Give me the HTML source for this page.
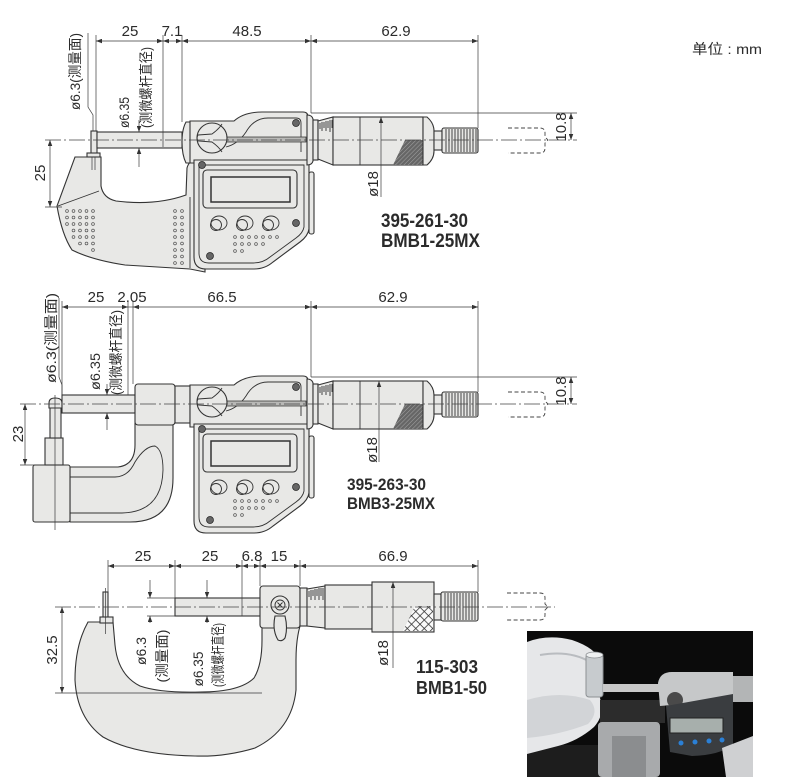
<!DOCTYPE html>
<html><head><meta charset="utf-8">
<style>
html,body{margin:0;padding:0;background:#fff;}
svg{display:block;}
text{font-family:"Liberation Sans","Noto Sans CJK SC",sans-serif;fill:#2b2b2b;}
.p{fill:#e8e8e6;stroke:#333;stroke-width:1.1;}
.l{fill:none;stroke:#333;stroke-width:0.9;}
.d{fill:none;stroke:#3a3a3a;stroke-width:0.7;}
.c{fill:none;stroke:#444;stroke-width:0.7;stroke-dasharray:16 3 2 3;}
.g{fill:none;stroke:#444;stroke-width:0.9;stroke-dasharray:4 2.5;}
.n{font-size:15px;}
.r{font-size:14px;}
.b{font-weight:bold;}
.dot{fill:none;stroke:#555;stroke-width:0.7;}
</style></head><body>
<svg width="790" height="782" viewBox="0 0 790 782" xmlns="http://www.w3.org/2000/svg">
<defs>
<marker id="ar" viewBox="0 0 8 6" refX="8" refY="3" markerWidth="7" markerHeight="4.5" markerUnits="userSpaceOnUse" orient="auto-start-reverse"><path d="M0,0 L8,3 L0,6 z" fill="#333"/></marker>
<pattern id="hatch" width="3" height="3" patternUnits="userSpaceOnUse" patternTransform="rotate(45)"><rect width="3" height="3" fill="#666"/><line x1="0" y1="0" x2="0" y2="3" stroke="#b5b5b5" stroke-width="0.8"/></pattern>
<pattern id="knurl" width="6" height="6" patternUnits="userSpaceOnUse" patternTransform="rotate(45)"><rect width="6" height="6" fill="#fafafa"/><path d="M0,0 H6 M0,0 V6" stroke="#333" stroke-width="1.5"/></pattern>
<clipPath id="pc"><rect x="527" y="631" width="226" height="146"/></clipPath>

<g id="thim">
<path class="p" d="M307,115 Q312,115 313,119 L313,161 Q312,165 307,165 Z"/>
<rect class="p" x="313" y="120" width="5" height="40"/>
<path class="p" d="M318,121 L333,117 L333,165 L318,159 Z"/>
<path class="l" stroke-width="0.6" d="M320,123 V129 M322,122 V131 M324,122 V128 M326,121 V131 M328,121 V128 M330,120 V132 M332,120 V128"/>
<rect class="p" x="333" y="117" width="90" height="48"/>
<line class="l" x1="360" y1="117" x2="360" y2="165"/>
<polygon points="405,140 423,140 423,165 393,165" fill="url(#hatch)"/>
<path class="p" d="M423,117 L427,117 Q434,123 434,131 L434,151 Q434,159 427,165 L423,165 Z"/>
<rect class="p" x="434" y="131" width="8" height="19"/>
<rect class="p" x="442" y="128" width="36" height="25" rx="2"/>
<path class="l" stroke-width="0.6" d="M446,129V152 M449,129V152 M452,129V152 M455,129V152 M458,129V152 M461,129V152 M464,129V152 M467,129V152 M470,129V152 M473,129V152 M476,129V152"/>
<path class="g" d="M508,128 L540,128 Q545,128 545,133 L545,137 L548,140 L545,143 L545,148 Q545,153 540,153 L508,153"/>
</g>

<g id="head">
<path class="p" d="M190,121 L234,121 Q244,112 262,112 L303,112 Q308,112 308,117 L308,163 L190,163 Z"/>
<path class="l" d="M226,147 Q238,144 246,132 Q254,118 268,118 L296,118 Q301,118 301,123 L301,152"/>
<path d="M224,137 L306,137 L306,142 L224,142 Z" fill="#b8b8b6" stroke="#333" stroke-width="0.8"/>
<circle class="p" cx="212" cy="138" r="15"/>
<path class="l" d="M198,135 Q196,138 198,141 L212,142 Q219,147 222,152 M198,135 L212,134 Q219,129 222,124"/>
<path class="p" d="M194,160 L309,160 L309,229 Q308,236 300,242 L273,262 Q265,269 254,269 L206,269 Q194,269 194,257 Z"/>
<path class="l" d="M199,165 L304,165 L304,227 Q303,233 296,238 L270,257 Q263,263 253,263 L209,263 Q199,263 199,253 Z"/>
<rect class="p" x="203" y="170" width="94" height="38" rx="4"/>
<rect x="211" y="177" width="79" height="25" fill="#e8e8e6" stroke="#333" stroke-width="1.5"/>
<ellipse class="l" cx="219" cy="223" rx="8" ry="7"/><circle class="l" cx="216" cy="225" r="5.5"/>
<ellipse class="l" cx="245" cy="223" rx="8" ry="7"/><circle class="l" cx="242" cy="225" r="5.5"/>
<ellipse class="l" cx="271" cy="223" rx="8" ry="7"/><circle class="l" cx="268" cy="225" r="5.5"/>
<g class="dot">
<circle cx="235" cy="237" r="1.4"/><circle cx="242" cy="237" r="1.4"/><circle cx="249" cy="237" r="1.4"/><circle cx="256" cy="237" r="1.4"/><circle cx="263" cy="237" r="1.4"/><circle cx="270" cy="237" r="1.4"/><circle cx="277" cy="237" r="1.4"/>
<circle cx="235" cy="244" r="1.4"/><circle cx="242" cy="244" r="1.4"/><circle cx="249" cy="244" r="1.4"/><circle cx="256" cy="244" r="1.4"/><circle cx="263" cy="244" r="1.4"/>
<circle cx="235" cy="251" r="1.4"/><circle cx="242" cy="251" r="1.4"/>
</g>
<g fill="#666" stroke="#222" stroke-width="0.7">
<circle cx="202" cy="165" r="3.5"/><circle cx="296" cy="123" r="3.5"/><circle cx="296" cy="223" r="3.5"/><circle cx="210" cy="256" r="3.5"/>
</g>
<rect class="p" x="309" y="172" width="5" height="62" rx="2"/>
</g>
</defs>

<!-- unit -->
<text x="692" y="54" font-size="14" textLength="70" lengthAdjust="spacingAndGlyphs">单位 : mm</text>

<!-- ===== Drawing 1 ===== -->
<path class="p" d="M75,157 L101,157 L101,186 Q103,198 116,201 Q155,206 186,195 L187,168 Q189,160 198,158 L205,158 L205,272 L190,269 L125,265 Q92,260 72,250 Q62,235 57,206 Z"/>
<path class="l" d="M58,206 L99,191 M190,197 L190,268"/>
<g class="dot">
<circle cx="67" cy="211" r="1.4"/><circle cx="73.5" cy="211" r="1.4"/><circle cx="80" cy="211" r="1.4"/><circle cx="86.5" cy="211" r="1.4"/><circle cx="93" cy="211" r="1.4"/>
<circle cx="67" cy="217.5" r="1.4"/><circle cx="73.5" cy="217.5" r="1.4"/><circle cx="80" cy="217.5" r="1.4"/><circle cx="86.5" cy="217.5" r="1.4"/><circle cx="93" cy="217.5" r="1.4"/>
<circle cx="67" cy="224" r="1.4"/><circle cx="73.5" cy="224" r="1.4"/><circle cx="80" cy="224" r="1.4"/><circle cx="86.5" cy="224" r="1.4"/><circle cx="93" cy="224" r="1.4"/>
<circle cx="73.5" cy="230.5" r="1.4"/><circle cx="80" cy="230.5" r="1.4"/><circle cx="86.5" cy="230.5" r="1.4"/><circle cx="93" cy="230.5" r="1.4"/>
<circle cx="73.5" cy="237" r="1.4"/><circle cx="80" cy="237" r="1.4"/><circle cx="86.5" cy="237" r="1.4"/><circle cx="93" cy="237" r="1.4"/>
<circle cx="80" cy="243.5" r="1.4"/><circle cx="86.5" cy="243.5" r="1.4"/><circle cx="93" cy="243.5" r="1.4"/>
<circle cx="93" cy="250" r="1.4"/>
<circle cx="175" cy="211" r="1.4"/><circle cx="182" cy="211" r="1.4"/><circle cx="175" cy="217.5" r="1.4"/><circle cx="182" cy="217.5" r="1.4"/><circle cx="175" cy="224" r="1.4"/><circle cx="182" cy="224" r="1.4"/><circle cx="175" cy="230.5" r="1.4"/><circle cx="182" cy="230.5" r="1.4"/><circle cx="175" cy="237" r="1.4"/><circle cx="182" cy="237" r="1.4"/><circle cx="175" cy="243.5" r="1.4"/><circle cx="182" cy="243.5" r="1.4"/><circle cx="175" cy="250" r="1.4"/><circle cx="182" cy="250" r="1.4"/><circle cx="175" cy="256.5" r="1.4"/><circle cx="182" cy="256.5" r="1.4"/><circle cx="175" cy="263" r="1.4"/><circle cx="182" cy="263" r="1.4"/>
</g>
<rect class="p" x="91" y="131" width="6" height="23"/>
<rect class="p" x="87" y="153" width="13" height="4"/>
<path class="d" d="M92,157 V170 M95,157 V170"/>
<rect class="p" x="97" y="132" width="85" height="16"/>
<path class="p" d="M186,122 L193,122 L193,163 L186,163 Q182,155 182,142 Q182,129 186,122 Z"/>
<use href="#head"/>
<use href="#thim"/>
<!-- dims D1 -->
<path class="d" d="M96,35 V131 M163,35 V147 M182,35 V122 M311,35 V113 M478,35 V128"/>
<line class="d" x1="96" y1="41" x2="163" y2="41" marker-start="url(#ar)" marker-end="url(#ar)"/>
<line class="d" x1="163" y1="41" x2="182" y2="41" marker-start="url(#ar)" marker-end="url(#ar)"/>
<line class="d" x1="182" y1="41" x2="311" y2="41" marker-start="url(#ar)" marker-end="url(#ar)"/>
<line class="d" x1="311" y1="41" x2="478" y2="41" marker-start="url(#ar)" marker-end="url(#ar)"/>
<text class="n" x="130" y="36" text-anchor="middle">25</text>
<text class="n" x="172" y="36" text-anchor="middle">7.1</text>
<text class="n" x="247" y="36" text-anchor="middle">48.5</text>
<text class="n" x="396" y="36" text-anchor="middle">62.9</text>
<polyline class="d" points="88,33 88,107 93,115 93,131"/>
<line class="d" x1="139" y1="120" x2="139" y2="132" marker-end="url(#ar)"/>
<line class="d" x1="139" y1="167" x2="139" y2="148" marker-end="url(#ar)"/>
<text class="r" transform="translate(80,110) rotate(-90)" textLength="77" lengthAdjust="spacingAndGlyphs">ø6.3(测量面)</text>
<text class="r" transform="translate(129,128) rotate(-90)" textLength="31" lengthAdjust="spacingAndGlyphs">ø6.35</text>
<text class="r" transform="translate(151,128) rotate(-90)" textLength="81" lengthAdjust="spacingAndGlyphs">(测微螺杆直径)</text>
<path class="d" d="M45,207 H62"/>
<line class="d" x1="50" y1="140" x2="50" y2="207" marker-start="url(#ar)" marker-end="url(#ar)"/>
<text class="n" transform="translate(45,173) rotate(-90)" text-anchor="middle">25</text>
<path class="d" d="M311,113 H577"/>
<line class="d" x1="571" y1="113" x2="571" y2="140" marker-start="url(#ar)" marker-end="url(#ar)"/>
<text class="n" transform="translate(566,127) rotate(-90)" text-anchor="middle">10.8</text>
<line class="d" x1="381" y1="117" x2="381" y2="197" marker-start="url(#ar)"/>
<text class="n" transform="translate(378,184) rotate(-90)" text-anchor="middle">ø18</text>
<line class="c" x1="45" y1="140" x2="577" y2="140"/>
<text class="b" x="381" y="227" font-size="19" textLength="87" lengthAdjust="spacingAndGlyphs">395-261-30</text>
<text class="b" x="381" y="247" font-size="19" textLength="99" lengthAdjust="spacingAndGlyphs">BMB1-25MX</text>

<!-- ===== Drawing 2 ===== -->
<path class="p" d="M70,467 L118,467 Q135,465 135,445 L135,423 L173,423 L173,478 Q173,522 130,522 L70,522 Z"/>
<path class="l" d="M70,477 L115,477 Q128,477 135,462 Q145,446 155,446 Q163,450 163,470 Q162,512 122,513 L70,513"/>
<rect class="p" x="33" y="465" width="37" height="57" rx="2"/>
<rect class="p" x="45" y="438" width="18" height="27"/>
<rect class="p" x="50" y="407" width="11" height="31"/>
<path class="p" d="M49,408 L49,403 Q49,398 55,398 Q62,398 62,403 L62,408 Z"/>
<path class="d" d="M55,395 V530"/>
<rect class="p" x="62" y="395" width="73" height="18"/>
<rect class="p" x="135" y="384" width="40" height="41" rx="3"/>
<rect class="p" x="175" y="386" width="15" height="37"/>
<use href="#head" transform="translate(0,264)"/>
<use href="#thim" transform="translate(0,264)"/>
<!-- dims D2 -->
<path class="d" d="M62,301 V398 M128,301 V395 M133,301 V384 M311,301 V377 M478,301 V392"/>
<line class="d" x1="62" y1="307" x2="128" y2="307" marker-start="url(#ar)" marker-end="url(#ar)"/>
<line class="d" x1="128" y1="307" x2="133" y2="307"/>
<line class="d" x1="133" y1="307" x2="311" y2="307" marker-start="url(#ar)" marker-end="url(#ar)"/>
<line class="d" x1="311" y1="307" x2="478" y2="307" marker-start="url(#ar)" marker-end="url(#ar)"/>
<text class="n" x="96" y="302" text-anchor="middle">25</text>
<text class="n" x="132" y="302" text-anchor="middle">2.05</text>
<text class="n" x="222" y="302" text-anchor="middle">66.5</text>
<text class="n" x="393" y="302" text-anchor="middle">62.9</text>
<polyline class="d" points="59,298 59,377 62,385 62,396"/>
<line class="d" x1="107" y1="384" x2="107" y2="395" marker-end="url(#ar)"/>
<line class="d" x1="107" y1="430" x2="107" y2="413" marker-end="url(#ar)"/>
<text class="r" transform="translate(56,383) rotate(-90)" textLength="90" lengthAdjust="spacingAndGlyphs">ø6.3(测量面)</text>
<text class="r" transform="translate(100,390) rotate(-90)" textLength="37" lengthAdjust="spacingAndGlyphs">ø6.35</text>
<text class="r" transform="translate(121,395) rotate(-90)" textLength="85" lengthAdjust="spacingAndGlyphs">(测微螺杆直径)</text>
<path class="d" d="M20,465 H45"/>
<line class="d" x1="25" y1="404" x2="25" y2="465" marker-start="url(#ar)" marker-end="url(#ar)"/>
<text class="n" transform="translate(23,434) rotate(-90)" text-anchor="middle">23</text>
<path class="d" d="M311,377 H577"/>
<line class="d" x1="571" y1="377" x2="571" y2="404" marker-start="url(#ar)" marker-end="url(#ar)"/>
<text class="n" transform="translate(566,391) rotate(-90)" text-anchor="middle">10.8</text>
<line class="d" x1="379" y1="381" x2="379" y2="462" marker-start="url(#ar)"/>
<text class="n" transform="translate(377,450) rotate(-90)" text-anchor="middle">ø18</text>
<line class="c" x1="20" y1="404" x2="577" y2="404"/>
<text class="b" x="347" y="490" font-size="17" textLength="79" lengthAdjust="spacingAndGlyphs">395-263-30</text>
<text class="b" x="347" y="509" font-size="17" textLength="88" lengthAdjust="spacingAndGlyphs">BMB3-25MX</text>

<!-- ===== Drawing 3 ===== -->
<path class="p" d="M88,622 L113,622 L115,645 Q118,675 140,686 Q160,693 200,692 Q240,692 254,678 Q262,665 262,640 L262,626 L300,626 Q296,640 296,660 L296,690 Q292,730 255,748 Q225,757 195,756 Q135,755 103,737 Q77,718 75,680 Q75,645 88,622 Z"/>
<rect class="p" x="103" y="592" width="5" height="27"/>
<rect class="p" x="100" y="617" width="13" height="6"/>
<path class="d" d="M105.5,588 V634"/>
<rect class="p" x="175" y="598" width="87" height="18"/>
<rect class="p" x="260" y="586" width="40" height="42" rx="3"/>
<circle class="p" cx="280" cy="605" r="9"/>
<circle class="l" cx="280" cy="605" r="5"/>
<path class="l" stroke-width="0.6" d="M277.5,602.5 L282.5,607.5 M282.5,602.5 L277.5,607.5"/>
<path class="p" d="M275,616 Q272,630 278,640 Q282,642 285,638 Q288,628 285,616 Z"/>
<rect class="p" x="300" y="588" width="7" height="38"/>
<path class="p" d="M307,589 L325,586 L325,628 L307,626 Z"/>
<path class="l" stroke-width="0.6" d="M309,591 V597 M311,590 V600 M313,590 V596 M315,589 V600 M317,589 V596 M319,588 V600 M321,588 V596 M323,588 V600"/>
<rect class="p" x="325" y="585" width="47" height="44"/>
<rect class="p" x="372" y="582" width="62" height="50"/>
<polygon points="415,606 433,606 433,631 403,631" fill="url(#knurl)"/>
<rect class="p" x="434" y="594" width="7" height="26"/>
<rect class="p" x="441" y="592" width="37" height="29" rx="2"/>
<path class="l" stroke-width="0.6" d="M445,593V620 M448,593V620 M451,593V620 M454,593V620 M457,593V620 M460,593V620 M463,593V620 M466,593V620 M469,593V620 M472,593V620 M475,593V620"/>
<path class="g" d="M507,593 L540,593 Q545,593 545,598 L545,604 L548,607 L545,610 L545,615 Q545,620 540,620 L507,620"/>
<!-- dims D3 -->
<path class="d" d="M108,560 V592 M175,560 V598 M242,560 V616 M260,560 V586 M300,560 V586 M478,560 V592"/>
<line class="d" x1="108" y1="566" x2="175" y2="566" marker-start="url(#ar)" marker-end="url(#ar)"/>
<line class="d" x1="175" y1="566" x2="242" y2="566" marker-start="url(#ar)" marker-end="url(#ar)"/>
<line class="d" x1="242" y1="566" x2="260" y2="566" marker-start="url(#ar)" marker-end="url(#ar)"/>
<line class="d" x1="260" y1="566" x2="300" y2="566" marker-start="url(#ar)" marker-end="url(#ar)"/>
<line class="d" x1="300" y1="566" x2="478" y2="566" marker-start="url(#ar)" marker-end="url(#ar)"/>
<text class="n" x="143" y="561" text-anchor="middle">25</text>
<text class="n" x="210" y="561" text-anchor="middle">25</text>
<text class="n" x="252" y="561" text-anchor="middle">6.8</text>
<text class="n" x="279" y="561" text-anchor="middle">15</text>
<text class="n" x="393" y="561" text-anchor="middle">66.9</text>
<path class="d" d="M147,598 H175 M147,616 H175"/>
<line class="d" x1="150" y1="580" x2="150" y2="598" marker-end="url(#ar)"/>
<line class="d" x1="150" y1="623" x2="150" y2="616" marker-end="url(#ar)"/>
<line class="d" x1="207" y1="580" x2="207" y2="598" marker-end="url(#ar)"/>
<line class="d" x1="207" y1="623" x2="207" y2="616" marker-end="url(#ar)"/>
<text class="r" transform="translate(146,651) rotate(-90)" text-anchor="middle">ø6.3</text>
<text class="r" transform="translate(167,656) rotate(-90)" text-anchor="middle" textLength="53" lengthAdjust="spacingAndGlyphs">(测量面)</text>
<text class="r" transform="translate(203,669) rotate(-90)" text-anchor="middle" textLength="35" lengthAdjust="spacingAndGlyphs">ø6.35</text>
<text class="r" transform="translate(223,655) rotate(-90)" text-anchor="middle" textLength="64" lengthAdjust="spacingAndGlyphs">(测微螺杆直径)</text>
<path class="d" d="M55,693 H262"/>
<line class="d" x1="62" y1="607" x2="62" y2="693" marker-start="url(#ar)" marker-end="url(#ar)"/>
<text class="n" transform="translate(57,650) rotate(-90)" text-anchor="middle">32.5</text>
<line class="d" x1="393" y1="582" x2="393" y2="668" marker-start="url(#ar)"/>
<text class="n" transform="translate(388,653) rotate(-90)" text-anchor="middle">ø18</text>
<line class="c" x1="55" y1="607" x2="555" y2="607"/>
<text class="b" x="416" y="673" font-size="18" textLength="62" lengthAdjust="spacingAndGlyphs">115-303</text>
<text class="b" x="416" y="694" font-size="18" textLength="71" lengthAdjust="spacingAndGlyphs">BMB1-50</text>

<!-- ===== Photo ===== -->
<g clip-path="url(#pc)">
<rect x="527" y="631" width="226" height="146" fill="#0b0b0b"/>
<rect x="527" y="745" width="80" height="32" fill="#1d1d1d"/>
<path d="M527,642 Q548,634 572,640 Q596,648 601,662 Q606,676 598,690 L601,702 Q604,716 594,727 Q578,741 558,746 L527,754 Z" fill="#e6e7e9"/>
<path d="M527,700 Q560,690 590,700 Q600,712 588,724 Q560,735 527,738 Z" fill="#d2d4d7"/>
<path d="M540,655 Q570,650 590,662" stroke="#b9bcc0" stroke-width="2" fill="none"/>
<rect x="586" y="654" width="17" height="43" rx="3" fill="#c7cbce" stroke="#8d9194" stroke-width="1"/>
<ellipse cx="594.5" cy="655" rx="8.5" ry="3" fill="#eef0f1" stroke="#8d9194" stroke-width="0.8"/>
<rect x="603" y="684" width="56" height="8" fill="#c8c8c8"/>
<rect x="600" y="700" width="65" height="23" fill="#2c2c2c"/>
<rect x="598" y="722" width="62" height="55" rx="4" fill="#a8aaac"/>
<rect x="612" y="736" width="34" height="41" fill="#8b8d8f"/>
<path d="M658,683 Q660,672 672,672 L733,672 L733,700 L660,706 Z" fill="#c6c8c9"/>
<circle cx="675" cy="700" r="8" fill="#4a4a4a"/>
<path d="M666,706 L733,694 L733,745 Q720,755 692,756 L670,752 Z" fill="#3a3d40"/>
<rect x="670" y="718" width="53" height="15" fill="#a7afac" stroke="#222" stroke-width="1"/>
<g fill="#2b80d6"><circle cx="681" cy="743" r="2.5"/><circle cx="695" cy="742" r="2.5"/><circle cx="709" cy="741" r="2.5"/><circle cx="722" cy="740" r="2.5"/></g>
<rect x="733" y="676" width="20" height="26" fill="#b3b5b6"/>
<path d="M722,748 L753,736 L753,777 L726,777 Z" fill="#cfd0d2"/>
</g>
</svg>
</body></html>
